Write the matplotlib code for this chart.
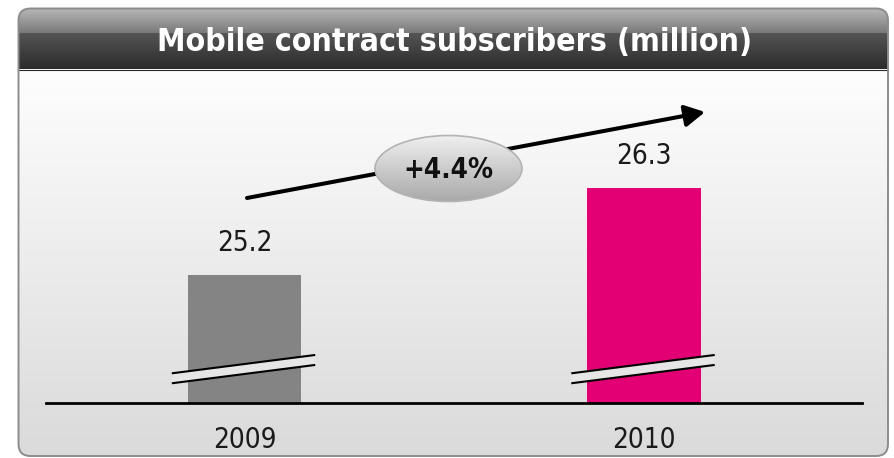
import matplotlib
matplotlib.use('Agg')
import matplotlib.pyplot as plt
from matplotlib import font_manager as fm
import numpy as np
from matplotlib.patches import FancyBboxPatch, Ellipse, Polygon, FancyArrowPatch

# ---- data ----
categories = ['2009', '2010']
values = [25.2, 26.3]
value_labels = ['25.2', '26.3']
growth_label = '+4.4%'
title = 'Mobile contract subscribers (million)'
bar_colors = ['#848484', '#e20074']

# look for a condensed / narrow face if one is installed
cond = None
for f in fm.fontManager.ttflist:
    n = (f.name + ' ' + str(f.stretch)).lower()
    if 'narrow' in n or 'condensed' in n:
        cond = f
        break
if cond is not None:
    FONT = [cond.name, 'Liberation Sans', 'DejaVu Sans']
    STRETCH = cond.stretch
else:
    FONT = ['Liberation Sans', 'DejaVu Sans']
    STRETCH = 'normal'
plt.rcParams['font.family'] = FONT
plt.rcParams['font.stretch'] = STRETCH

W, H = 895, 458
fig = plt.figure(figsize=(W / 100, H / 100), dpi=100)
fig.patch.set_facecolor('white')

# ---- background panel ----
bg = fig.add_axes([0, 0, 1, 1])
bg.set_xlim(0, W)
bg.set_ylim(H, 0)
bg.axis('off')

px0, py0, px1, py1 = 18.5, 8.5, 888, 456
panel = FancyBboxPatch((px0, py0), px1 - px0, py1 - py0,
                       boxstyle='round,pad=0,rounding_size=12',
                       facecolor='none', edgecolor='#8c8c8c', lw=1.4,
                       transform=bg.transData, zorder=5)
bg.add_patch(panel)

hy = 69.5  # header bottom
n1 = 25
g1 = np.linspace(0.72, 0.48, n1)
g2 = np.linspace(0.33, 0.17, int(hy - py0) - n1)
hg = np.concatenate([g1, g2])[:, None] * np.ones((1, 4))
im = bg.imshow(np.dstack([hg, hg, hg]), extent=(px0, px1, hy, py0),
               aspect='auto', interpolation='bilinear', zorder=1)
im.set_clip_path(panel)
cg = np.linspace(0.995, 0.855, 200)[:, None] * np.ones((1, 4))
im2 = bg.imshow(np.dstack([cg, cg, cg]), extent=(px0, px1, py1 + 2, hy),
                aspect='auto', interpolation='bilinear', zorder=1)
im2.set_clip_path(panel)
bg.plot([px0, px1], [hy, hy], color='#2a2a2a', lw=0.8, zorder=2)

t = bg.text(455, 42, title, ha='center', va='center', color='white',
            fontweight='bold', fontsize=30, zorder=6)

arr = FancyArrowPatch((247, 198), (705, 112), arrowstyle='-|>,head_length=1.2,head_width=0.65',
                      mutation_scale=10, lw=2.9, color='black',
                      shrinkA=0, shrinkB=0, zorder=3)
bg.add_patch(arr)

ell = Ellipse((448.5, 168.5), 147, 66, facecolor='none', edgecolor='#b3b3b3',
              lw=1.2, transform=bg.transData, zorder=5)
bg.add_patch(ell)
eg = np.linspace(0.94, 0.66, 100)[:, None] * np.ones((1, 4))
im3 = bg.imshow(np.dstack([eg, eg, eg]), extent=(375, 522, 202, 135),
                aspect='auto', interpolation='bilinear', zorder=4)
im3.set_clip_path(ell)
bg.text(448.5, 170, growth_label, ha='center', va='center', fontsize=20,
        fontweight='bold', color='#111111', zorder=6)

bg.set_xlim(0, W)
bg.set_ylim(H, 0)

# ---- bar axes ----
base_px, top_px = 402.5, 70
ymin, ymax = 23.588, 27.792
ax = fig.add_axes([46 / W, (H - base_px) / H, 816 / W, (base_px - top_px) / H])
ax.patch.set_alpha(0)
x = np.arange(len(categories))
ax.bar(x, values, width=0.283, color=bar_colors, zorder=2)
ax.set_xlim(-0.497, 1.5457)
ax.set_ylim(ymin, ymax)
for s in ['top', 'left', 'right']:
    ax.spines[s].set_visible(False)
ax.spines['bottom'].set_linewidth(2)
ax.spines['bottom'].set_color('black')
ax.set_yticks([])
ax.set_xticks(x, categories)
ax.tick_params(axis='x', length=0, pad=17, labelsize=20, labelcolor='#1a1a1a')

for xi in x:
    xl, xr = xi - 0.182, xi + 0.177
    yl, yr = 23.957, 24.189
    d = 0.126
    ax.add_patch(Polygon([[xl, yl], [xr, yr], [xr, yr - d], [xl, yl - d]],
                         closed=True, facecolor='#e6e6e6', edgecolor='none', zorder=3))
    ax.plot([xl, xr], [yl, yr], color='black', lw=1.5, zorder=4, solid_capstyle='butt')
    ax.plot([xl, xr], [yl - d, yr - d], color='black', lw=1.5, zorder=4, solid_capstyle='butt')

for xi, v, lab in zip(x, values, value_labels):
    ax.annotate(lab, (xi, v), xytext=(0, 13), textcoords='offset points',
                ha='center', va='bottom', fontsize=20, color='#1a1a1a')

fig.canvas.draw()
bb = t.get_window_extent()
t.set_fontsize(min(34, 30 * 595 / bb.width))

fig.savefig('out.png', dpi=100)
